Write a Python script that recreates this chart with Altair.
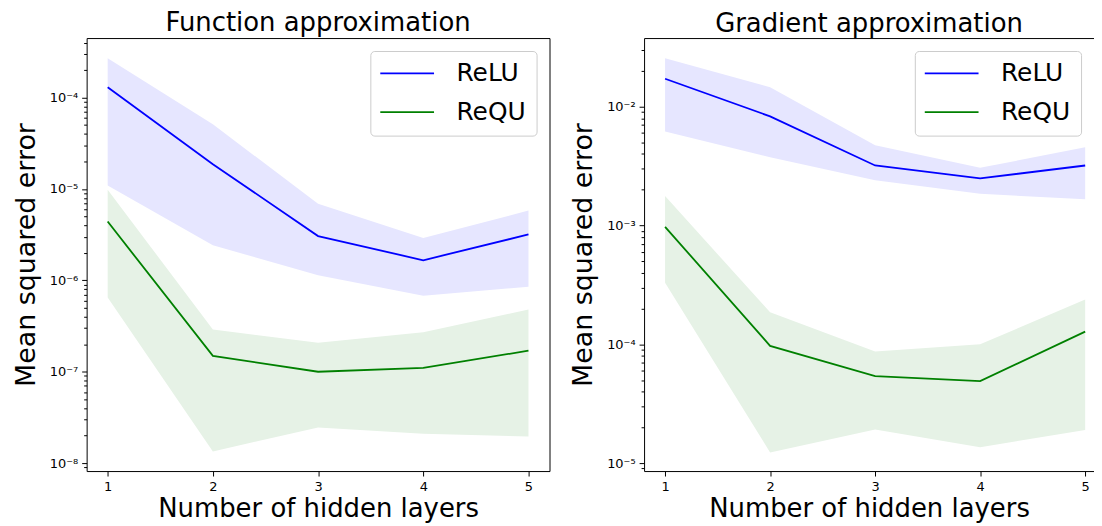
import altair as alt
import pandas as pd

# ---------------- data ----------------
layers = [1, 2, 3, 4, 5]
series_names = ["ReLU", "ReQU"]

# Function approximation
func_relu_mean = [1.3e-4, 1.87e-5, 3.05e-6, 1.66e-6, 3.18e-6]
func_relu_lo = [1.09e-5, 2.42e-6, 1.14e-6, 6.8e-7, 8.5e-7]
func_relu_hi = [2.7e-4, 5.1e-5, 6.9e-6, 2.9e-6, 5.8e-6]
func_requ_mean = [4.4e-6, 1.49e-7, 1.0e-7, 1.1e-7, 1.7e-7]
func_requ_lo = [6.5e-7, 1.34e-8, 2.46e-8, 2.1e-8, 1.95e-8]
func_requ_hi = [9.8e-6, 2.9e-7, 2.08e-7, 2.7e-7, 4.8e-7]

# Gradient approximation
grad_relu_mean = [0.0172, 0.0083, 0.0032, 0.00249, 0.0032]
grad_relu_lo = [0.0062, 0.00376, 0.00241, 0.00185, 0.00166]
grad_relu_hi = [0.0256, 0.0146, 0.00474, 0.00306, 0.00456]
grad_requ_mean = [9.75e-4, 9.7e-5, 5.4e-5, 4.9e-5, 1.28e-4]
grad_requ_lo = [3.3e-4, 1.23e-5, 1.92e-5, 1.36e-5, 1.9e-5]
grad_requ_hi = [1.77e-3, 1.86e-4, 8.7e-5, 1.0e-4, 2.38e-4]

# axis ticks / labels
func_major_ticks = [1e-8, 1e-7, 1e-6, 1e-5, 1e-4]
func_tick_labels = ["10⁻⁸", "10⁻⁷", "10⁻⁶", "10⁻⁵", "10⁻⁴"]
func_domain = [10 ** -8.087, 10 ** -3.348]

grad_major_ticks = [1e-5, 1e-4, 1e-3, 1e-2]
grad_tick_labels = ["10⁻⁵", "10⁻⁴", "10⁻³", "10⁻²"]
grad_domain = [10 ** -5.067, 10 ** -1.422]

# the right panel is cut by the picture's right edge in the reference
func_x_domain = [0.8, 5.2]
grad_x_domain = [0.8, 5.084]

FONT = "DejaVu Sans"
PLOT_H = 435


def make_df(relu_mean, relu_lo, relu_hi, requ_mean, requ_lo, requ_hi):
    rows = []
    for name, m, lo, hi in [("ReLU", relu_mean, relu_lo, relu_hi),
                            ("ReQU", requ_mean, requ_lo, requ_hi)]:
        for i, l in enumerate(layers):
            rows.append({"layers": l, "series": name, "mean": m[i], "lo": lo[i], "hi": hi[i]})
    return pd.DataFrame(rows)


def minor_ticks(dom):
    out = []
    for k in range(-10, 1):
        for m in range(2, 10):
            v = m * 10.0 ** k
            if dom[0] <= v <= dom[1]:
                out.append(v)
    return out


def panel(title, df, dom, majors, labels, width, x_domain, cropped):
    ticks = sorted(majors + minor_ticks(dom))
    expr = "''"
    for v, lab in zip(majors, labels):
        expr = f"abs(datum.value / {v!r} - 1) < 1e-6 ? '{lab}' : ({expr})"
    major_test = "abs(log(datum.value) / LN10 - round(log(datum.value) / LN10)) < 0.001"
    yscale = alt.Scale(type="log", domain=dom, nice=False)
    yaxis = alt.Axis(
        values=ticks,
        labelExpr=expr,
        title="Mean squared error",
        titleFontSize=27,
        tickSize={"condition": {"test": major_test, "value": 5}, "value": 3},
        labelOverlap=False,
        labelBound=False,
        labelFlush=False,
        grid=False,
        labelPadding=4,
        titlePadding=9,
        domain=cropped,
        domainColor="black",
        domainWidth=1,
    )
    xscale = alt.Scale(domain=x_domain, nice=False, zero=False)
    xaxis = alt.Axis(values=layers, format="d", title="Number of hidden layers",
                     grid=False, labelFlush=False, labelPadding=5, titlePadding=2,
                     tickSize=5, domain=cropped, domainColor="black", domainWidth=1)
    if cropped:
        band_xaxis = alt.Axis(orient="top", domain=True, domainColor="black",
                              domainWidth=1, ticks=False, labels=False, title=None,
                              grid=False)
    else:
        band_xaxis = xaxis
    fill_scale = alt.Scale(domain=series_names, range=["#e6e6ff", "#e6f2e6"])
    color_scale = alt.Scale(domain=series_names, range=["#0000ff", "#008000"])

    band = alt.Chart(df).mark_area(opacity=1).encode(
        x=alt.X("layers:Q", scale=xscale, axis=band_xaxis),
        y=alt.Y("lo:Q", scale=yscale, axis=yaxis),
        y2="hi:Q",
        fill=alt.Fill("series:N", scale=fill_scale, legend=None),
    )
    line = alt.Chart(df).mark_line(strokeWidth=1.8).encode(
        x=alt.X("layers:Q", scale=xscale, axis=xaxis),
        y=alt.Y("mean:Q", scale=yscale, axis=yaxis),
        color=alt.Color(
            "series:N",
            scale=color_scale,
            legend=alt.Legend(
                title=None,
                orient="top-right",
                offset=13,
                padding=10,
                fillColor="white",
                strokeColor="#cccccc",
                cornerRadius=4,
                labelFontSize=25,
                labelFont=FONT,
                labelColor="black",
                labelLimit=300,
                symbolType="M-2.7,0L2.7,0",
                symbolSize=400,
                symbolStrokeWidth=1.8,
                symbolOffset=14.5,
                labelOffset=37,
                rowPadding=13,
            ),
        ),
    )
    layer = alt.layer(band, line).properties(
        width=width, height=PLOT_H,
        title=alt.TitleParams(title, anchor="middle", fontSize=26, font=FONT,
                              fontWeight="normal", color="black", offset=1),
    )
    if cropped:
        layer = layer.resolve_axis(x="independent").properties(
            view=alt.ViewBackground(stroke=None))
    return layer


func_df = make_df(func_relu_mean, func_relu_lo, func_relu_hi,
                  func_requ_mean, func_requ_lo, func_requ_hi)
grad_df = make_df(grad_relu_mean, grad_relu_lo, grad_relu_hi,
                  grad_requ_mean, grad_requ_lo, grad_requ_hi)

left = panel("Function approximation", func_df, func_domain,
             func_major_ticks, func_tick_labels, 465, func_x_domain, False)
right = panel("Gradient approximation", grad_df, grad_domain,
              grad_major_ticks, grad_tick_labels, 452, grad_x_domain, True)

chart = (
    alt.hconcat(left, right, spacing=19)
    .resolve_scale(y="independent", x="independent")
    .resolve_legend(color="independent")
    .properties(padding={"left": 3, "top": 0, "right": 0, "bottom": 0},
                background="white")
    .configure_view(stroke="black", strokeWidth=1)
    .configure_axis(
        domain=False,
        tickColor="black",
        tickWidth=1,
        labelColor="black",
        labelFont=FONT,
        labelFontSize=13,
        titleFont=FONT,
        titleFontSize=26,
        titleFontWeight="normal",
        titleColor="black",
    )
)

chart.save("out.html", embed_options={"renderer": "svg", "actions": False})
